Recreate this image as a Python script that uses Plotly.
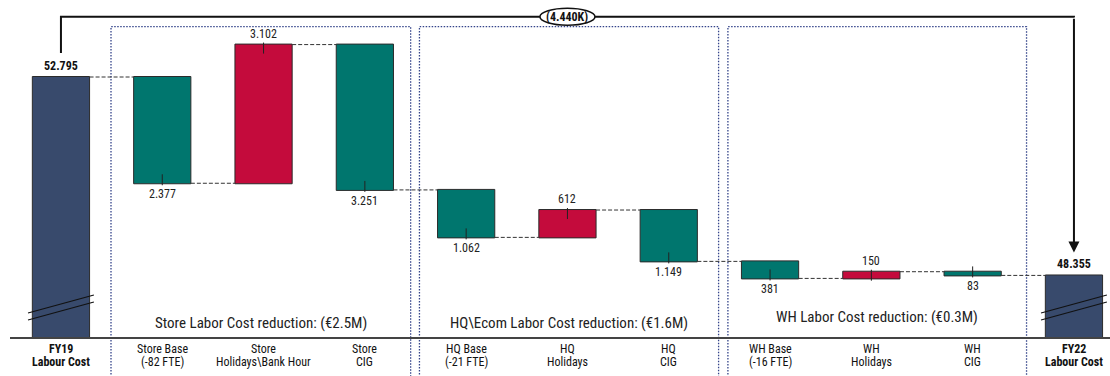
import plotly.graph_objects as go

# Labour cost bridge FY19 -> FY22, values in K EUR
start_label = ["FY19", "Labour Cost"]
end_label = ["FY22", "Labour Cost"]
start_value = 52795
end_value = 48355

step_line1 = ["Store Base", "Store", "Store", "HQ Base", "HQ", "HQ", "WH Base", "WH", "WH"]
step_line2 = ["(-82 FTE)", "Holidays\\Bank Hour", "CIG", "(-21 FTE)", "Holidays", "CIG",
              "(-16 FTE)", "Holidays", "CIG"]
step_delta = [-2377, 3102, -3251, -1062, 612, -1149, -381, 150, -83]

groups = ["Store", "HQ\\Ecom", "WH"]
group_size = 3

NAVY = "#384A6C"
TEAL = "#00766E"
RED = "#C40B3C"
EDGE = "#2B2B2B"
BOX = "#34448A"
FONT = "Roboto Condensed, Liberation Sans Narrow, Arial Narrow, sans-serif"

n = len(step_delta) + 2
xs = list(range(n))
line1 = [start_label[0]] + step_line1 + [end_label[0]]
line2 = [start_label[1]] + step_line2 + [end_label[1]]

def fmt(v):
    return f"{abs(v):,}".replace(",", ".")

# running totals after each step
running = [start_value]
for d in step_delta:
    running.append(running[-1] + d)

px_per_k = 0.0447
plot_h = 337
y_top = start_value + 77 / px_per_k
y_bot = start_value - 260 / px_per_k
x_lo = -0.503
x_hi = x_lo + 1100 / 101.3

fig = go.Figure()
fig.add_trace(go.Waterfall(
    x=xs,
    y=[start_value] + step_delta + [end_value],
    measure=["absolute"] + ["relative"] * len(step_delta) + ["absolute"],
    width=0.565,
    textinfo="none",
    hoverinfo="skip",
    increasing=dict(marker=dict(color=RED, line=dict(color=EDGE, width=1))),
    decreasing=dict(marker=dict(color=TEAL, line=dict(color=EDGE, width=1))),
    totals=dict(marker=dict(color=NAVY, line=dict(color=EDGE, width=1))),
    connector=dict(mode="between", line=dict(color="#333333", width=1, dash="4px,2px")),
))

shapes = []
annotations = []

# group frames and captions
for g, name in enumerate(groups):
    deltas = step_delta[g * group_size:(g + 1) * group_size]
    total = sum(deltas)
    x0 = g * group_size + 0.494 + g * 0.045
    x1 = g * group_size + 3.452 + g * 0.04
    shapes.append(dict(type="path", xref="x", yref="paper",
                       path=f"M {x0},-0.2 L {x0},0.921 L {x1},0.921 L {x1},-0.2",
                       line=dict(color=BOX, width=1.3, dash="1.5px,1.5px"), layer="below"))
    cy = 323 if g < 2 else 317
    annotations.append(dict(x=(x0 + x1) / 2, y=1 - cy / plot_h, xref="x", yref="paper",
                            text=f"{name} Labor Cost reduction: (€{abs(total) / 1000:.1f}M)",
                            showarrow=False, font=dict(family=FONT, size=15, color="#222222"),
                            xanchor="center", yanchor="middle"))

# step labels and leader ticks
for i, d in enumerate(step_delta):
    x = i + 1
    edge = running[i + 1]
    if d < 0:
        shapes.append(dict(type="line", xref="x", yref="y", ysizemode="pixel", yanchor=edge,
                           x0=x, x1=x, y0=-2, y1=9, line=dict(color="#222222", width=1)))
        annotations.append(dict(x=x, y=edge, xref="x", yref="y", text=fmt(d), showarrow=False,
                                yanchor="top", yshift=-2,
                                font=dict(family=FONT, size=12, color="#222222")))
    else:
        shapes.append(dict(type="line", xref="x", yref="y", ysizemode="pixel", yanchor=edge,
                           x0=x, x1=x, y0=2, y1=-9, line=dict(color="#222222", width=1)))
        annotations.append(dict(x=x, y=edge, xref="x", yref="y", text=fmt(d), showarrow=False,
                                yanchor="bottom", yshift=2,
                                font=dict(family=FONT, size=12, color="#222222")))

# totals labels
for x, v in [(0, start_value), (n - 1, end_value)]:
    annotations.append(dict(x=x, y=v, xref="x", yref="y", text=f"<b>{fmt(v)}</b>",
                            showarrow=False, yanchor="bottom", yshift=2,
                            font=dict(family=FONT, size=12, color="#111111")))
    # axis break marks
    for off in (0, 7):
        shapes.append(dict(type="line", xref="x", yref="y", ysizemode="pixel", yanchor=y_bot,
                           x0=x - 0.325, x1=x + 0.325, y0=17 + off, y1=35 + off,
                           line=dict(color="#111111", width=1.2)))

# category labels under the axis
for i in xs:
    b1 = f"<b>{line1[i]}</b>" if i in (0, n - 1) else line1[i]
    b2 = f"<b>{line2[i]}</b>" if i in (0, n - 1) else line2[i]
    for txt, cy in ((b1, 348.5), (b2, 362.5)):
        annotations.append(dict(x=i, y=1 - cy / plot_h, xref="x", yref="paper", text=txt,
                                showarrow=False, xanchor="center", yanchor="middle",
                                font=dict(family=FONT, size=12, color="#111111")))

# overall change bracket
top_y = y_top - 16.7 / px_per_k
start_y = start_value + 24 / px_per_k
shapes.append(dict(type="path", xref="x", yref="y",
                   path=f"M 0,{start_y} L 0,{top_y} L {n - 1},{top_y} L {n - 1},{top_y - 20}",
                   line=dict(color="#111111", width=2)))
annotations.append(dict(x=n - 1, y=end_value, xref="x", yref="y", ax=n - 1, ay=top_y - 10,
                        axref="x", ayref="y", text="", showarrow=True, arrowhead=2,
                        arrowsize=1.1, arrowwidth=2, arrowcolor="#111111", standoff=23))
mid = (n - 1) / 2
shapes.append(dict(type="circle", xref="x", yref="y", xsizemode="pixel", ysizemode="pixel",
                   xanchor=mid, yanchor=top_y, x0=-27.5, x1=27.5, y0=-8.5, y1=8.5,
                   fillcolor="white", line=dict(color="#111111", width=1.5)))
annotations.append(dict(x=mid, y=top_y, xref="x", yref="y",
                        text=f"<b>({fmt(start_value - end_value)}K)</b>", showarrow=False,
                        font=dict(family=FONT, size=12, color="#111111")))

fig.update_layout(
    width=1110, height=376,
    margin=dict(l=10, r=0, t=0, b=39),
    plot_bgcolor="white", paper_bgcolor="white",
    showlegend=False,
    shapes=shapes, annotations=annotations,
    xaxis=dict(range=[x_lo, x_hi], showticklabels=False, ticks="", showgrid=False,
               zeroline=False, showline=True, linecolor="#444444", linewidth=2),
    yaxis=dict(range=[y_bot, y_top], visible=False, showgrid=False),
)

fig.write_html("out.html")
